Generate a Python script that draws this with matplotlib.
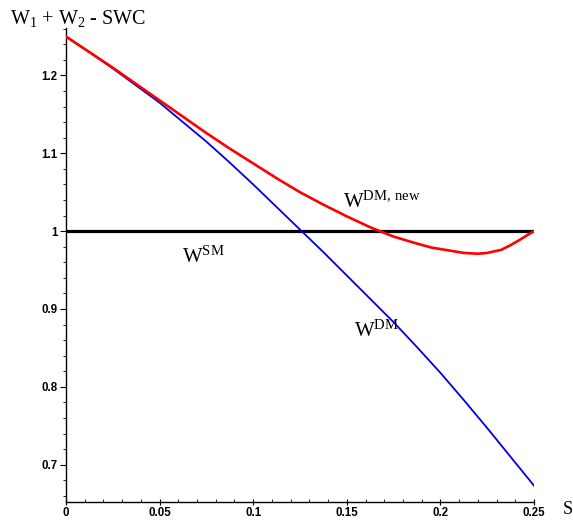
import matplotlib
matplotlib.use('Agg')
import matplotlib.pyplot as plt
from matplotlib.ticker import MultipleLocator, FixedLocator

plt.rcParams['mathtext.fontset'] = 'custom'
plt.rcParams['mathtext.rm'] = 'Liberation Serif'
plt.rcParams['mathtext.it'] = 'Liberation Serif'

# values
s_dm = [0, 0.0125, 0.025, 0.0375, 0.05, 0.0625, 0.075, 0.0875, 0.1, 0.1125, 0.125,
        0.1375, 0.15, 0.1625, 0.175, 0.1875, 0.2, 0.2125, 0.225, 0.2375, 0.25]
w_dm = [1.250, 1.230, 1.209, 1.187, 1.165, 1.140, 1.115, 1.088, 1.060, 1.031, 1.002,
        0.973, 0.943, 0.913, 0.883, 0.851, 0.818, 0.783, 0.747, 0.710, 0.673]

s_new = [0, 0.0125, 0.025, 0.0375, 0.05, 0.0625, 0.075, 0.0875, 0.1, 0.1125, 0.125,
         0.1375, 0.15, 0.1625, 0.175, 0.1875, 0.195, 0.2, 0.2075, 0.2125, 0.22, 0.225,
         0.2325, 0.2375, 0.2425, 0.2465, 0.25]
w_new = [1.250, 1.230, 1.210, 1.189, 1.168, 1.147, 1.126, 1.106, 1.087, 1.068, 1.050,
         1.034, 1.019, 1.005, 0.993, 0.984, 0.979, 0.977, 0.974, 0.972, 0.971, 0.972,
         0.976, 0.982, 0.989, 0.995, 1.000]

s_sm = [0, 0.25]
w_sm = [1.0, 1.0]

y_ticks = [0.7, 0.8, 0.9, 1.0, 1.1, 1.2]
y_labels = ['0.7', '0.8', '0.9', '1', '1.1', '1.2']
x_ticks = [0, 0.05, 0.1, 0.15, 0.2, 0.25]
x_labels = ['0', '0.05', '0.1', '0.15', '0.2', '0.25']

W, H = 573, 520
fig = plt.figure(figsize=(W / 100, H / 100), dpi=100)
ax = fig.add_axes([66 / W, 18 / H, (534 - 66) / W, (502 - 28) / H])

ax.plot(s_sm, w_sm, color='black', lw=2.3, solid_capstyle='butt', zorder=2)
ax.plot(s_dm, w_dm, color='#0000e6', lw=1.3, zorder=3)
ax.plot(s_new, w_new, color='#ff0000', lw=1.9, zorder=4)

ax.set_xlim(0, 0.25)
ax.set_ylim(0.652, 1.261)

for sp in ['top', 'right']:
    ax.spines[sp].set_visible(False)
for sp in ['left', 'bottom']:
    ax.spines[sp].set_linewidth(1.0)

ax.yaxis.set_major_locator(FixedLocator(y_ticks))
ax.set_yticklabels(y_labels)
ax.xaxis.set_major_locator(FixedLocator(x_ticks))
ax.set_xticklabels(x_labels)
ax.xaxis.set_minor_locator(MultipleLocator(0.01))
ax.yaxis.set_minor_locator(MultipleLocator(0.02))

ax.tick_params(axis='y', which='major', direction='out', length=4, width=0.8, pad=2)
ax.tick_params(axis='y', which='minor', direction='out', length=2, width=0.6)
ax.tick_params(axis='x', which='major', direction='inout', length=5, width=0.8, pad=1)
ax.tick_params(axis='x', which='minor', direction='in', length=2, width=0.6)
for lab in ax.get_xticklabels() + ax.get_yticklabels():
    lab.set_fontfamily('Liberation Sans')
    lab.set_fontweight('heavy')
    lab.set_fontsize(8.3)

# curve labels
ax.text(0.062, 0.959, r'$\mathrm{W}^{\mathrm{SM}}$', fontsize=15)
ax.text(0.148, 1.030, r'$\mathrm{W}^{\mathrm{DM,\,new}}$', fontsize=15)
ax.text(0.1538, 0.864, r'$\mathrm{W}^{\mathrm{DM}}$', fontsize=15)

fig.text(10 / W, (520 - 24) / H, r'W$_\mathrm{1}$ + W$_\mathrm{2}$ - SWC',
         fontsize=14.5, family='Liberation Serif')
fig.text(563 / W, (520 - 514) / H, 'S', fontsize=13, family='Liberation Serif')

fig.savefig('out.png', dpi=100)
